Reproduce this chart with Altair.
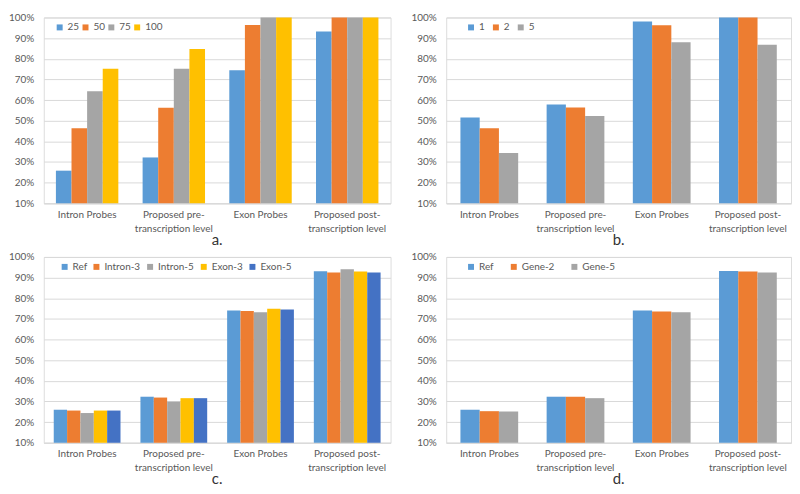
import altair as alt
import pandas as pd

categories = ["Intron Probes", "Proposed pre-transcription level", "Exon Probes", "Proposed post-transcription level"]

# Panel a
a_series = ["25", "50", "75", "100"]
a_25 = [25.8, 32.2, 74.4, 93.2]
a_50 = [46.3, 56.3, 96.4, 100]
a_75 = [64.3, 75.2, 100, 100]
a_100 = [75.2, 84.7, 100, 100]

# Panel b
b_series = ["1", "2", "5"]
b_1 = [51.5, 57.9, 98.0, 100]
b_2 = [46.3, 56.4, 96.2, 100]
b_5 = [34.3, 52.3, 88.0, 86.8]

# Panel c
c_series = ["Ref", "Intron-3", "Intron-5", "Exon-3", "Exon-5"]
c_ref = [26.0, 32.3, 74.1, 93.1]
c_intron3 = [25.6, 31.9, 73.8, 92.5]
c_intron5 = [24.4, 29.9, 73.2, 94.1]
c_exon3 = [25.6, 31.6, 74.9, 93.0]
c_exon5 = [25.6, 31.6, 74.5, 92.5]

# Panel d
d_series = ["Ref", "Gene-2", "Gene-5"]
d_ref = [26.0, 32.3, 74.1, 93.2]
d_gene2 = [25.3, 32.3, 73.6, 92.9]
d_gene5 = [25.1, 31.6, 73.2, 92.5]

y_ticks = [10, 20, 30, 40, 50, 60, 70, 80, 90, 100]

c_blue = "#5B9BD5"
c_orange = "#ED7D31"
c_gray = "#A5A5A5"
c_yellow = "#FFC000"
c_dblue = "#4472C4"

FONT = "Lato"
TXT = "#595959"


def frame(series, values):
    rows = []
    for s, vals in zip(series, values):
        for c, v in zip(categories, vals):
            rows.append({"category": c, "series": s, "value": v})
    return pd.DataFrame(rows)


label_expr = ("datum.value == 'Proposed pre-transcription level' ? ['Proposed pre-', 'transcription level'] : "
              "datum.value == 'Proposed post-transcription level' ? ['Proposed post-', 'transcription level'] : datum.value")


def panel(df, series, colors, caption, pad_inner, col_pad, leg_x, width):
    return alt.Chart(df).mark_bar().encode(
        x=alt.X("category:N", sort=categories,
                scale=alt.Scale(paddingInner=pad_inner, paddingOuter=pad_inner / 2),
                axis=alt.Axis(title=None, labelAngle=0, ticks=False, domainColor="#D9D9D9",
                              labelExpr=label_expr, labelPadding=6, labelFont=FONT,
                              labelFontSize=10, labelColor=TXT, labelLineHeight=14,
                              grid=False)),
        xOffset=alt.XOffset("series:N", sort=series,
                            scale=alt.Scale(domain=series, paddingInner=0, paddingOuter=0)),
        y=alt.Y("value:Q", scale=alt.Scale(domain=[10, 100], clamp=True, nice=False, zero=False),
                axis=alt.Axis(title=None, values=y_ticks, labelExpr="datum.value + '%'",
                              ticks=False, domain=False, gridColor="#D9D9D9",
                              labelFont=FONT, labelFontSize=10, labelColor=TXT,
                              labelPadding=10, minExtent=35, maxExtent=35)),
        color=alt.Color("series:N", sort=series,
                        scale=alt.Scale(domain=series, range=colors),
                        legend=alt.Legend(title=None, orient="none", legendX=leg_x, legendY=5,
                                          direction="horizontal", symbolType="square",
                                          symbolSize=36, labelFont=FONT, labelFontSize=10,
                                          labelColor=TXT, columnPadding=col_pad,
                                          labelOffset=3)),
    ).properties(
        width=width, height=187,
        title=alt.TitleParams(caption, orient="bottom", font=FONT, fontSize=15,
                              fontWeight="normal", color="#333333", offset=0),
    )


pa = panel(frame(a_series, [a_25, a_50, a_75, a_100]), a_series,
           [c_blue, c_orange, c_gray, c_yellow], "a.", 0.28, 1, 11, 349)
pb = panel(frame(b_series, [b_1, b_2, b_5]), b_series,
           [c_blue, c_orange, c_gray], "b.", 0.33, 6, 20, 347)
pc = panel(frame(c_series, [c_ref, c_intron3, c_intron5, c_exon3, c_exon5]), c_series,
           [c_blue, c_orange, c_gray, c_yellow, c_dblue], "c.", 0.23, 4, 16, 349)
pd_ = panel(frame(d_series, [d_ref, d_gene2, d_gene5]), d_series,
            [c_blue, c_orange, c_gray], "d.", 0.33, 15, 20, 347)

ind = dict(color="independent", x="independent", xOffset="independent", y="independent")

chart = alt.vconcat(
    alt.hconcat(pa, pb, spacing=19).resolve_scale(**ind),
    alt.hconcat(pc, pd_, spacing=19).resolve_scale(**ind),
    spacing=2,
).resolve_scale(**ind).properties(
    padding={"left": 0, "top": 2, "right": 0, "bottom": 0}
).configure_view(stroke=None).configure(background="white")

chart.save("out.html", embed_options={"renderer": "svg", "actions": False})
